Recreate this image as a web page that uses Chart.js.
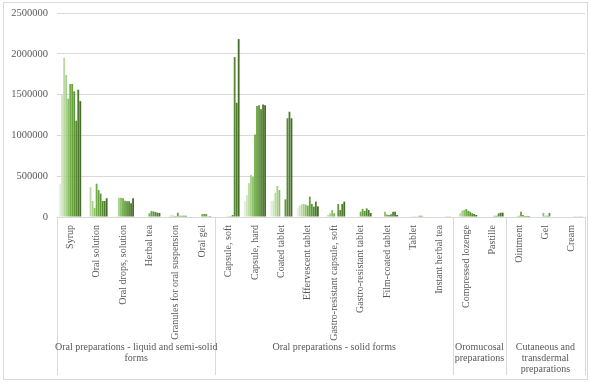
<!DOCTYPE html>
<html>
<head>
<meta charset="utf-8">
<script src="https://cdn.jsdelivr.net/npm/chart.js@4/dist/chart.umd.min.js"></script>
<style>
  body { margin: 0; background: #fff; }
  #wrap { width: 590px; height: 383px; }
</style>
</head>
<body>
<div id="wrap"><canvas id="myChart" width="590" height="383"></canvas></div>
<script>
// categories (bottom level) and the groups they belong to (top level)
let categories = [
    "Syrup", "Oral solution", "Oral drops, solution", "Herbal tea",
    "Granules for oral suspension", "Oral gel",
    "Capsule, soft", "Capsule, hard", "Coated tablet", "Effervescent tablet",
    "Gastro-resistant capsule, soft", "Gastro-resistant tablet", "Film-coated tablet",
    "Tablet", "Instant herbal tea",
    "Compressed lozenge", "Pastille",
    "Ointment", "Gel", "Cream"
];
let groups     = [
    "Oral preparations - liquid and semi-solid\nforms",
    "Oral preparations - solid forms",
    "Oromucosal\npreparations",
    "Cutaneous and\ntransdermal\npreparations"
];
let groupSizes = [6, 9, 2, 3];

let yTicks = [0, 500000, 1000000, 1500000, 2000000, 2500000];

// one array per series, light -> dark
let s1  = [404000, 0, 3000, 0, 3000, 0, 0, 196000, 196000, 110000, 0, 0, 0, 0, 0, 3000, 0, 0, 0, 0];
let s2  = [1500000, 0, 8000, 0, 5000, 0, 0, 270000, 200000, 140000, 5000, 0, 0, 0, 0, 5000, 0, 0, 0, 0];
let s3  = [1950000, 367000, 3000, 0, 15000, 0, 0, 413000, 298000, 155000, 25000, 0, 0, 0, 0, 45000, 0, 0, 0, 0];
let s4  = [1740000, 196000, 237000, 0, 20000, 0, 0, 515000, 380000, 160000, 45000, 0, 5000, 0, 0, 77000, 0, 0, 0, 0];
let s5  = [1450000, 110000, 237000, 5000, 15000, 0, 5000, 494000, 331000, 150000, 86000, 0, 65000, 8000, 0, 86000, 0, 10000, 50000, 0];
let s6  = [1630000, 408000, 230000, 45000, 12000, 35000, 10000, 1010000, 0, 140000, 45000, 65000, 30000, 8000, 0, 98000, 0, 16000, 15000, 0];
let s7  = [1630000, 330000, 200000, 72000, 53000, 38000, 10000, 1360000, 5000, 250000, 0, 100000, 25000, 8000, 0, 77000, 15000, 65000, 15000, 8000];
let s8  = [1540000, 286000, 192000, 68000, 15000, 36000, 25000, 1370000, 216000, 160000, 160000, 74000, 35000, 8000, 0, 64000, 15000, 25000, 50000, 8000];
let s9  = [1180000, 196000, 192000, 62000, 15000, 3000, 1960000, 1320000, 1210000, 127000, 86000, 106000, 65000, 15000, 8000, 45000, 45000, 12000, 0, 8000];
let s10 = [1560000, 196000, 168000, 52000, 15000, 12000, 1400000, 1380000, 1290000, 188000, 160000, 86000, 65000, 15000, 8000, 37000, 53000, 12000, 0, 8000];
let s11 = [1420000, 230000, 229000, 50000, 15000, 0, 2180000, 1370000, 1210000, 130000, 188000, 50000, 25000, 5000, 8000, 25000, 53000, 12000, 0, 8000];

let series = [s1, s2, s3, s4, s5, s6, s7, s8, s9, s10, s11];
let colors = [
    "#e2efda", "#cde4bd", "#b9d9a3", "#a6cf8a", "#8cbf67", "#70ad47",
    "#67a140", "#5f953a", "#578934", "#4e7b2e", "#456d29"
];

let font   = "'Liberation Serif', 'Times New Roman', serif";
let grey   = "#595959";
let lineC  = "#d9d9d9";

// draws the group level of the category axis + separators + outer frame
const groupAxis = {
    id: "groupAxis",
    afterDraw(chart) {
        const ctx = chart.ctx;
        const x   = chart.scales.x;
        const top = chart.chartArea.bottom;
        const bottom = 375;

        let edges = [chart.chartArea.left];
        let idx = 0;
        groupSizes.forEach(n => {
            idx += n;
            if (idx < categories.length) {
                edges.push((x.getPixelForValue(idx - 1) + x.getPixelForValue(idx)) / 2);
            } else {
                edges.push(chart.chartArea.right);
            }
        });

        ctx.save();
        ctx.strokeStyle = lineC;
        ctx.lineWidth = 1;
        edges.forEach(e => {
            let px = Math.round(e) + 0.5;
            ctx.beginPath();
            ctx.moveTo(px, top);
            ctx.lineTo(px, bottom);
            ctx.stroke();
        });

        // outer frame
        ctx.strokeRect(3.5, 2.5, 584, 377);

        ctx.fillStyle = grey;
        ctx.font = "10px " + font;
        ctx.textAlign = "center";
        ctx.textBaseline = "middle";
        groups.forEach((name, g) => {
            let mid = (edges[g] + edges[g + 1]) / 2;
            name.split("\n").forEach((l, i) => {
                ctx.fillText(l, mid, 347 + i * 11);
            });
        });
        ctx.restore();
    }
};

const ctx = document.getElementById("myChart").getContext("2d");
const myChart = new Chart(ctx, {
    type: "bar",
    data: {
        labels: categories,
        datasets: series.map((d, i) => ({
            label: "Series " + (i + 1),
            data: d,
            backgroundColor: colors[i],
            borderWidth: 0,
            barPercentage: 0.9,
            categoryPercentage: 0.84
        }))
    },
    options: {
        responsive: false,
        animation: false,
        layout: { padding: { top: 13, right: 5, left: 0, bottom: 0 } },
        plugins: {
            legend: { display: false },
            tooltip: { enabled: false }
        },
        scales: {
            x: {
                grid: { display: false },
                border: { color: lineC },
                ticks: {
                    autoSkip: false,
                    minRotation: 90,
                    maxRotation: 90,
                    padding: 0,
                    color: grey,
                    font: { family: font, size: 10 }
                },
                afterFit(scale) {
                    scale.height = 166;
                    scale.paddingLeft = 0;
                    scale.paddingRight = 0;
                }
            },
            y: {
                min: 0,
                max: 2500000,
                afterBuildTicks(scale) { scale.ticks = yTicks.map(v => ({ value: v })); },
                grid: { color: lineC, drawTicks: false },
                border: { display: false },
                ticks: {
                    padding: 9,
                    color: grey,
                    font: { family: font, size: 10.5 },
                    callback: v => String(v)
                },
                afterFit(scale) {
                    scale.width = 57;
                    scale.paddingTop = 0;
                    scale.paddingBottom = 0;
                }
            }
        }
    },
    plugins: [groupAxis]
});
</script>
</body>
</html>
